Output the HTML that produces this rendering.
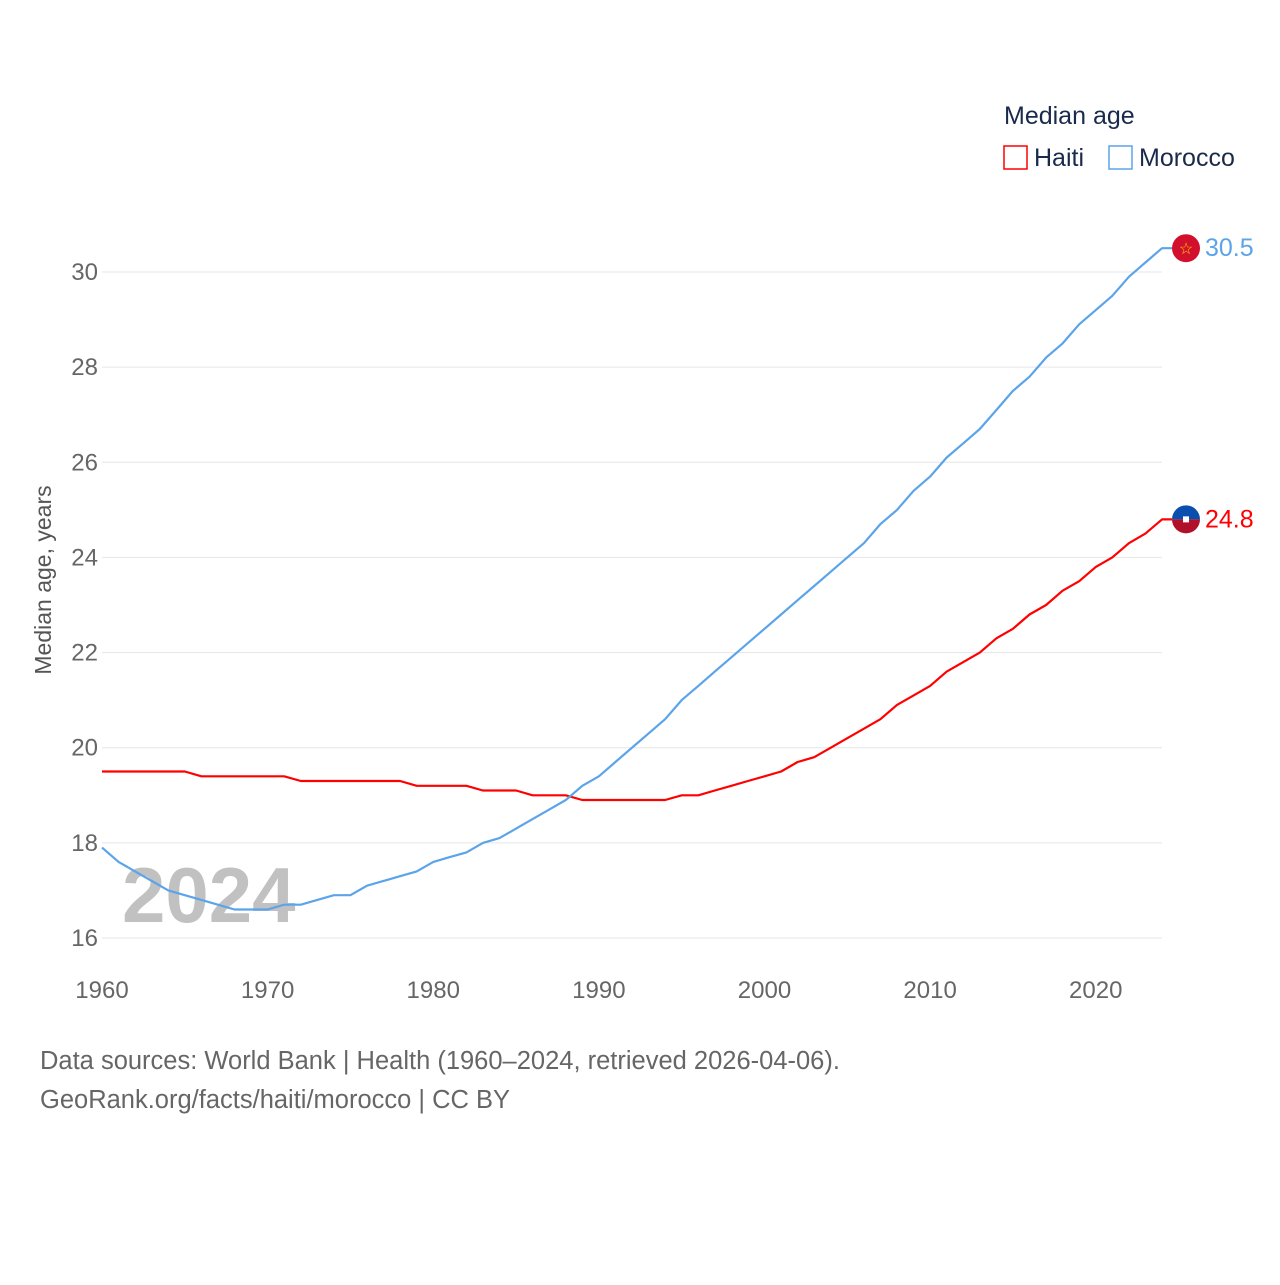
<!DOCTYPE html>
<html><head><meta charset="utf-8"><style>
body{margin:0;background:#fff;font-family:"Liberation Sans",sans-serif;}
svg text{font-family:"Liberation Sans",sans-serif;}
</style></head><body>
<svg id="chart" width="1280" height="1280" viewBox="0 0 1280 1280" xmlns="http://www.w3.org/2000/svg">
<rect width="1280" height="1280" fill="#fff"/>
<g id="grid"></g>
<g id="yticks"></g>
<g id="xticks"></g>
<text x="122" y="922" font-size="78" font-weight="bold" fill="#bbb" opacity="0.9">2024</text>
<g id="lines"></g>
<text transform="translate(51,580) rotate(-90)" text-anchor="middle" font-size="23" fill="#555">Median age, years</text>
<g>
<text x="1004" y="124" font-size="25" fill="#1a2a4a">Median age</text>
<g><rect x="1004" y="146" width="23" height="23" fill="none" stroke="#f00" stroke-width="1.5"/><text x="1034" y="166" font-size="25" fill="#1a2a4a">Haiti</text></g>
<g><rect x="1109" y="146" width="23" height="23" fill="none" stroke="#5ba4ea" stroke-width="1.5"/><text x="1139" y="166" font-size="25" fill="#1a2a4a">Morocco</text></g>
</g>
<text x="40" y="1069" font-size="25.5" fill="#666">Data sources: World Bank | Health (1960–2024, retrieved 2026-04-06).</text>
<text x="40" y="1108" font-size="25.5" fill="#666">GeoRank.org/facts/haiti/morocco | CC BY</text>
</svg>
<script>
const years=[];for(let y=1960;y<=2024;y++)years.push(y);
const haiti=[19.5,19.5,19.5,19.5,19.5,19.5,19.4,19.4,19.4,19.4,19.4,19.4,19.3,19.3,19.3,19.3,19.3,19.3,19.3,19.2,19.2,19.2,19.2,19.1,19.1,19.1,19.0,19.0,19.0,18.9,18.9,18.9,18.9,18.9,18.9,19.0,19.0,19.1,19.2,19.3,19.4,19.5,19.7,19.8,20.0,20.2,20.4,20.6,20.9,21.1,21.3,21.6,21.8,22.0,22.3,22.5,22.8,23.0,23.3,23.5,23.8,24.0,24.3,24.5,24.8];
const morocco=[17.9,17.6,17.4,17.2,17.0,16.9,16.8,16.7,16.6,16.6,16.6,16.7,16.7,16.8,16.9,16.9,17.1,17.2,17.3,17.4,17.6,17.7,17.8,18.0,18.1,18.3,18.5,18.7,18.9,19.2,19.4,19.7,20.0,20.3,20.6,21.0,21.3,21.6,21.9,22.2,22.5,22.8,23.1,23.4,23.7,24.0,24.3,24.7,25.0,25.4,25.7,26.1,26.4,26.7,27.1,27.5,27.8,28.2,28.5,28.9,29.2,29.5,29.9,30.2,30.5];
const yTicks=[16,18,20,22,24,26,28,30];
const xTicks=[1960,1970,1980,1990,2000,2010,2020];
const NS="http://www.w3.org/2000/svg";
const X=v=>102+(v-1960)*(1162-102)/64;
const Y=v=>938-(v-16)*(938-272)/14;
function mk(tag,attrs,parent){const e=document.createElementNS(NS,tag);for(const k in attrs)e.setAttribute(k,attrs[k]);parent.appendChild(e);return e;}
const grid=document.getElementById('grid'),yt=document.getElementById('yticks'),xt=document.getElementById('xticks'),lines=document.getElementById('lines');
yTicks.forEach(t=>{
 const l=mk('line',{x1:102,x2:1162,y1:Y(t),y2:Y(t),stroke:'#e6e6e6','stroke-width':1},grid);
 
 
 const tx=mk('text',{x:98,y:Y(t)+8,'text-anchor':'end','font-size':24,fill:'#666'},yt);tx.textContent=t;
 
 
});
xTicks.forEach(t=>{
 const tx=mk('text',{x:X(t),y:998,'text-anchor':'middle','font-size':24,fill:'#666'},xt);tx.textContent=t;
 
 
});
function series(vals,color,name){
 let d=vals.map((v,i)=>(i?'L':'M')+X(years[i]).toFixed(1)+','+Y(v).toFixed(1)).join('');
 d+='L'+(X(2024)+10)+','+Y(vals[vals.length-1]).toFixed(1);
 const p=mk('path',{d:d,fill:'none',stroke:color,'stroke-width':2.2,'stroke-linejoin':'round'},lines);
 
 
}
series(haiti,'#f00','haiti');
series(morocco,'#5ba4ea','morocco');
const mv=morocco[morocco.length-1],hv=haiti[haiti.length-1];
const mf=mk('g',{},lines);


mk('circle',{cx:1186,cy:Y(mv),r:14,fill:'#d2102e'},mf);
const st=mk('text',{x:1186,y:Y(mv)+6,'text-anchor':'middle','font-size':16,fill:'#f5d000'},mf);st.textContent='☆';
const ml=mk('text',{x:1205,y:Y(mv)+8,'font-size':25,fill:'#5ba4ea'},lines);ml.textContent=mv.toFixed(1);


const hf=mk('g',{},lines);


const hy=Y(hv);
mk('path',{d:`M1172,${hy} A14,14 0 0 1 1200,${hy} Z`,fill:'#0a4fb0'},hf);
mk('path',{d:`M1172,${hy} A14,14 0 0 0 1200,${hy} Z`,fill:'#b0102a'},hf);
mk('rect',{x:1183,y:hy-3,width:6,height:6,fill:'#fff'},hf);
const hl=mk('text',{x:1205,y:hy+8,'font-size':25,fill:'#f00'},lines);hl.textContent=hv.toFixed(1);


</script>
</body></html>
